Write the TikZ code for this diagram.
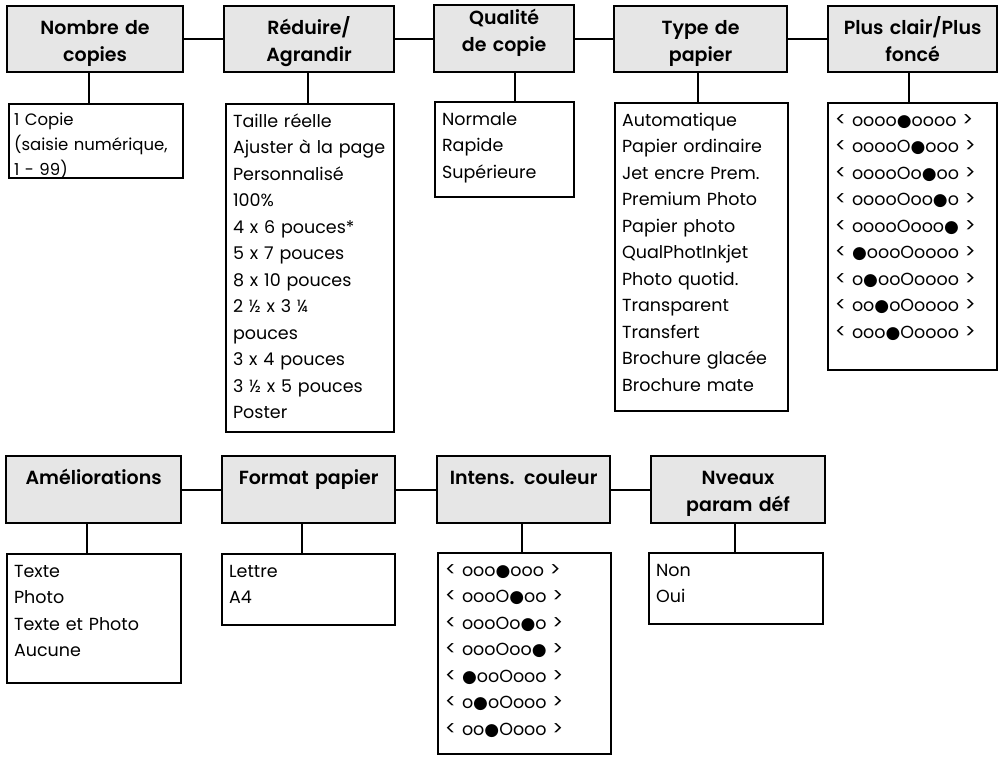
\documentclass[tikz,border=0pt]{standalone}
\usepackage{fontspec}
\setmainfont{Poppins}[BoldFont={Poppins SemiBold}]
\newfontfamily\dvfont{DejaVu Sans}
\definecolor{hdrgray}{RGB}{230,230,230}
\newcommand\fc{{\dvfont\fontsize{17}{17}\selectfont\char"25CF}}
\newcommand\bodyfont{\fontsize{17.5}{26.5}\selectfont}
\newcommand\hdrfont{\fontsize{19}{27}\selectfont\bfseries}
\newcommand\arw[1]{{\fontsize{20}{20}\selectfont #1}}
\begin{document}
\begin{tikzpicture}[x=1pt,y=-1pt,
  box/.style={draw, line width=2.2pt, anchor=north west, inner xsep=0pt, inner ysep=0pt},
  hdr/.style={box, fill=hdrgray, align=center, font=\hdrfont, text height=28pt},
  sub/.style={box, fill=white, align=left, font=\bodyfont, inner xsep=7pt, text height=23pt},
  link/.style={line width=2.2pt}]
\useasboundingbox (0,0) rectangle (999,756);

% top headers
\node[hdr, text width=176pt, text depth=38pt] (h1) at (6,5) {Nombre de\\copies};
\node[hdr, text width=170pt, text depth=38pt] (h2) at (223,5) {Réduire/\\Agrandir};
\node[hdr, text width=140pt, text height=19pt, text depth=48pt] (h3) at (433,4) {Qualité\\de copie};
\node[hdr, text width=173pt, text depth=38pt] (h4) at (613,5) {Type de\\papier};
\node[hdr, text width=169pt, text depth=38pt] (h5) at (827,5) {Plus clair/Plus\\foncé};

% top subs
\node[sub, inner xsep=5pt, text width=164pt, text height=21pt, text depth=53pt, font=\fontsize{16.5}{25}\selectfont] (s1) at (8,103) {1 Copie\\(saisie numérique,\\1 - 99)};
\node[sub, text width=154pt, text depth=305pt] (s2) at (225,103) {Taille réelle\\Ajuster à la page\\Personnalisé\\100\%\\4 x 6 pouces*\\5 x 7 pouces\\8 x 10 pouces\\2 ½ x 3 ¼\\pouces\\3 x 4 pouces\\3 ½ x 5 pouces\\Poster};
\node[sub, text width=125pt, text depth=72pt] (s3) at (434,101) {Normale\\Rapide\\Supérieure};
\node[sub, text width=159pt, text depth=285pt] (s4) at (614,102) {Automatique\\Papier ordinaire\\Jet encre Prem.\\Premium Photo\\Papier photo\\QualPhotInkjet\\Photo quotid.\\Transparent\\Transfert\\Brochure glacée\\Brochure mate};
\node[sub, text width=155pt, text depth=244pt] (s5) at (827,102) {\arw{<} oooo\fc oooo \arw{>}\\\arw{<} ooooO\fc ooo \arw{>}\\\arw{<} ooooOo\fc oo \arw{>}\\\arw{<} ooooOoo\fc o \arw{>}\\\arw{<} ooooOooo\fc{} \arw{>}\\\arw{<} \fc oooOoooo \arw{>}\\\arw{<} o\fc ooOoooo \arw{>}\\\arw{<} oo\fc oOoooo \arw{>}\\\arw{<} ooo\fc Ooooo \arw{>}};

% bottom headers
\node[hdr, text width=175pt, text depth=39pt] (b1) at (5,455) {Améliorations};
\node[hdr, text width=173pt, text depth=39pt] (b2) at (221,455) {Format papier};
\node[hdr, text width=173pt, text depth=39pt] (b3) at (436,455) {Intens. couleur};
\node[hdr, text width=174pt, text depth=39pt] (b4) at (650,455) {Nveaux\\param déf};

% bottom subs
\node[sub, text width=160pt, text depth=106pt] (t1) at (6,553) {Texte\\Photo\\Texte et Photo\\Aucune};
\node[sub, text width=159pt, text depth=48pt] (t2) at (221,553) {Lettre\\A4};
\node[sub, text width=159pt, text depth=178pt] (t3) at (437,552) {\arw{<} ooo\fc ooo \arw{>}\\\arw{<} oooO\fc oo \arw{>}\\\arw{<} oooOo\fc o \arw{>}\\\arw{<} oooOoo\fc{} \arw{>}\\\arw{<} \fc ooOooo \arw{>}\\\arw{<} o\fc oOooo \arw{>}\\\arw{<} oo\fc Oooo \arw{>}};
\node[sub, text width=160pt, text depth=48pt] (t4) at (648,552) {Non\\Oui};

% connector x positions
\coordinate (c1) at (89,0);
\coordinate (c2) at (308,0);
\coordinate (c3) at (515,0);
\coordinate (c4) at (698,0);
\coordinate (c5) at (909,0);
\coordinate (d1) at (87,0);
\coordinate (d2) at (302,0);
\coordinate (d3) at (522,0);
\coordinate (d4) at (735,0);

% horizontal links
\draw[link] (h1.east) -- (h2.west);
\draw[link] (h2.east) -- (h2.east -| h3.west);
\draw[link] (h4.west |- h2.east) -- (h3.east |- h2.east);
\draw[link] (h4.east) -- (h5.west);
\draw[link] (b1.east) -- (b2.west);
\draw[link] (b2.east) -- (b3.west);
\draw[link] (b3.east) -- (b4.west);

% vertical links
\draw[link] (h1.south -| c1) -- (s1.north -| c1);
\draw[link] (h2.south -| c2) -- (s2.north -| c2);
\draw[link] (h3.south -| c3) -- (s3.north -| c3);
\draw[link] (h4.south -| c4) -- (s4.north -| c4);
\draw[link] (h5.south -| c5) -- (s5.north -| c5);
\draw[link] (b1.south -| d1) -- (t1.north -| d1);
\draw[link] (b2.south -| d2) -- (t2.north -| d2);
\draw[link] (b3.south -| d3) -- (t3.north -| d3);
\draw[link] (b4.south -| d4) -- (t4.north -| d4);
\end{tikzpicture}
\end{document}
